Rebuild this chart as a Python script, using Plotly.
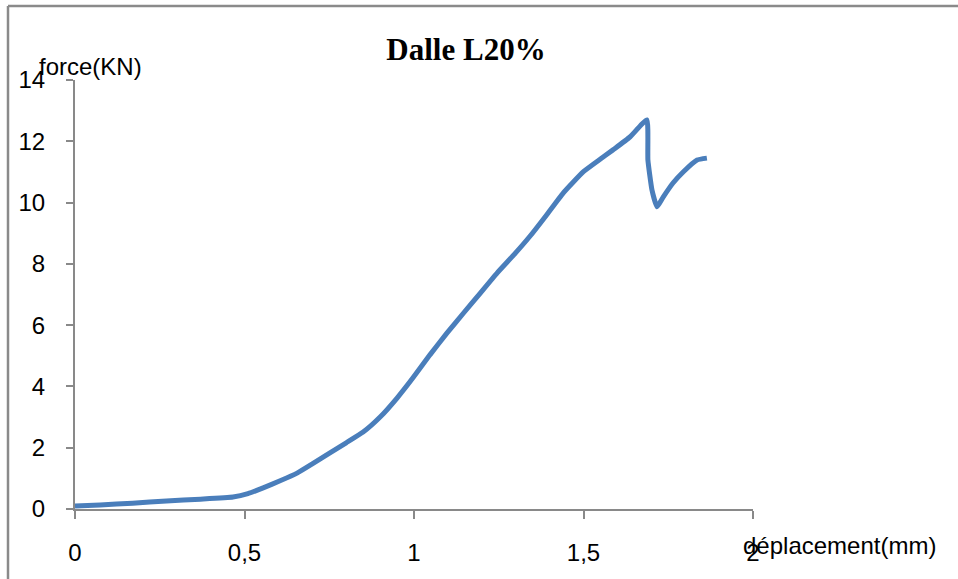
import plotly.graph_objects as go

# Load-displacement curve of the slab test
deplacement = [0.0, 0.074, 0.17, 0.27, 0.37, 0.466, 0.51, 0.555, 0.605, 0.655, 0.70, 0.752,
               0.80, 0.85, 0.90, 0.95, 0.997, 1.047, 1.097, 1.145, 1.195, 1.245, 1.295,
               1.342, 1.39, 1.44, 1.499, 1.545, 1.587, 1.637, 1.687, 1.690, 1.702,
               1.717, 1.735, 1.764, 1.794, 1.835, 1.864]
force = [0.10, 0.13, 0.19, 0.26, 0.32, 0.39, 0.50, 0.69, 0.92, 1.17, 1.47, 1.83,
         2.16, 2.51, 3.00, 3.62, 4.28, 5.03, 5.74, 6.38, 7.04, 7.70, 8.30,
         8.90, 9.58, 10.31, 11.00, 11.38, 11.72, 12.14, 12.70, 11.39, 10.41,
         9.86, 10.18, 10.64, 11.00, 11.39, 11.45]

x_ticks = [0, 0.5, 1, 1.5, 2]
x_tick_labels = ["0", "0,5", "1", "1,5", "2"]
y_ticks = [0, 2, 4, 6, 8, 10, 12, 14]
y_tick_labels = ["0", "2", "4", "6", "8", "10", "12", "14"]

title_text = "Dalle L20%"
y_label = "force(KN)"
x_label = "déplacement(mm)"

W, H = 958, 579
left, right, top, bottom = 75, 205, 80, 70
pw, ph = W - left - right, H - top - bottom

def px_to_paper_x(px):
    return (px - left) / pw

def px_to_paper_y(py):
    return (H - bottom - py) / ph

axis_color = "#898989"
font_family = "Liberation Sans, Arial, sans-serif"

fig = go.Figure()
fig.add_trace(go.Scatter(
    x=deplacement, y=force, mode="lines",
    line=dict(color="#4A7EBB", width=5, shape="spline", smoothing=0.4),
    hoverinfo="x+y", showlegend=False,
))

fig.update_layout(
    width=W, height=H,
    margin=dict(l=left, r=right, t=top, b=bottom, autoexpand=False),
    paper_bgcolor="white", plot_bgcolor="white",
    font=dict(family=font_family, size=24, color="black"),
    title=dict(
        text=f"<b>{title_text}</b>",
        font=dict(family="Liberation Serif, Times New Roman, serif", size=31, color="black"),
        x=466 / W, xanchor="center", y=1 - 49 / H, yanchor="middle",
        automargin=False,
    ),
    xaxis=dict(
        range=[0, 2], tickvals=x_ticks, ticktext=x_tick_labels,
        showgrid=False, zeroline=False, showline=True, linecolor=axis_color, linewidth=2,
        ticks="outside", ticklen=8, tickwidth=2, tickcolor=axis_color,
        ticklabelstandoff=13, tickfont=dict(size=24), automargin=False,
    ),
    yaxis=dict(
        range=[0, 14], tickvals=y_ticks, ticktext=y_tick_labels,
        showgrid=False, zeroline=False, showline=True, linecolor=axis_color, linewidth=2,
        ticks="outside", ticklen=7, tickwidth=2, tickcolor=axis_color,
        ticklabelstandoff=16, tickfont=dict(size=24), automargin=False,
    ),
    annotations=[
        dict(text=y_label, xref="paper", yref="paper",
             x=px_to_paper_x(37), y=px_to_paper_y(66),
             xanchor="left", yanchor="middle", showarrow=False,
             font=dict(size=24)),
        dict(text=x_label, xref="paper", yref="paper",
             x=px_to_paper_x(741), y=px_to_paper_y(545),
             xanchor="left", yanchor="middle", showarrow=False,
             font=dict(size=24)),
    ],
    shapes=[
        # chart frame (left and top edges)
        dict(type="line", xref="paper", yref="paper",
             x0=px_to_paper_x(8), x1=px_to_paper_x(8),
             y0=px_to_paper_y(6), y1=px_to_paper_y(H + 10),
             line=dict(color="#8a8a8a", width=2.5)),
        dict(type="line", xref="paper", yref="paper",
             x0=px_to_paper_x(8), x1=px_to_paper_x(W + 10),
             y0=px_to_paper_y(6), y1=px_to_paper_y(6),
             line=dict(color="#8a8a8a", width=2.5)),
    ],
)

fig.write_html("out.html")
